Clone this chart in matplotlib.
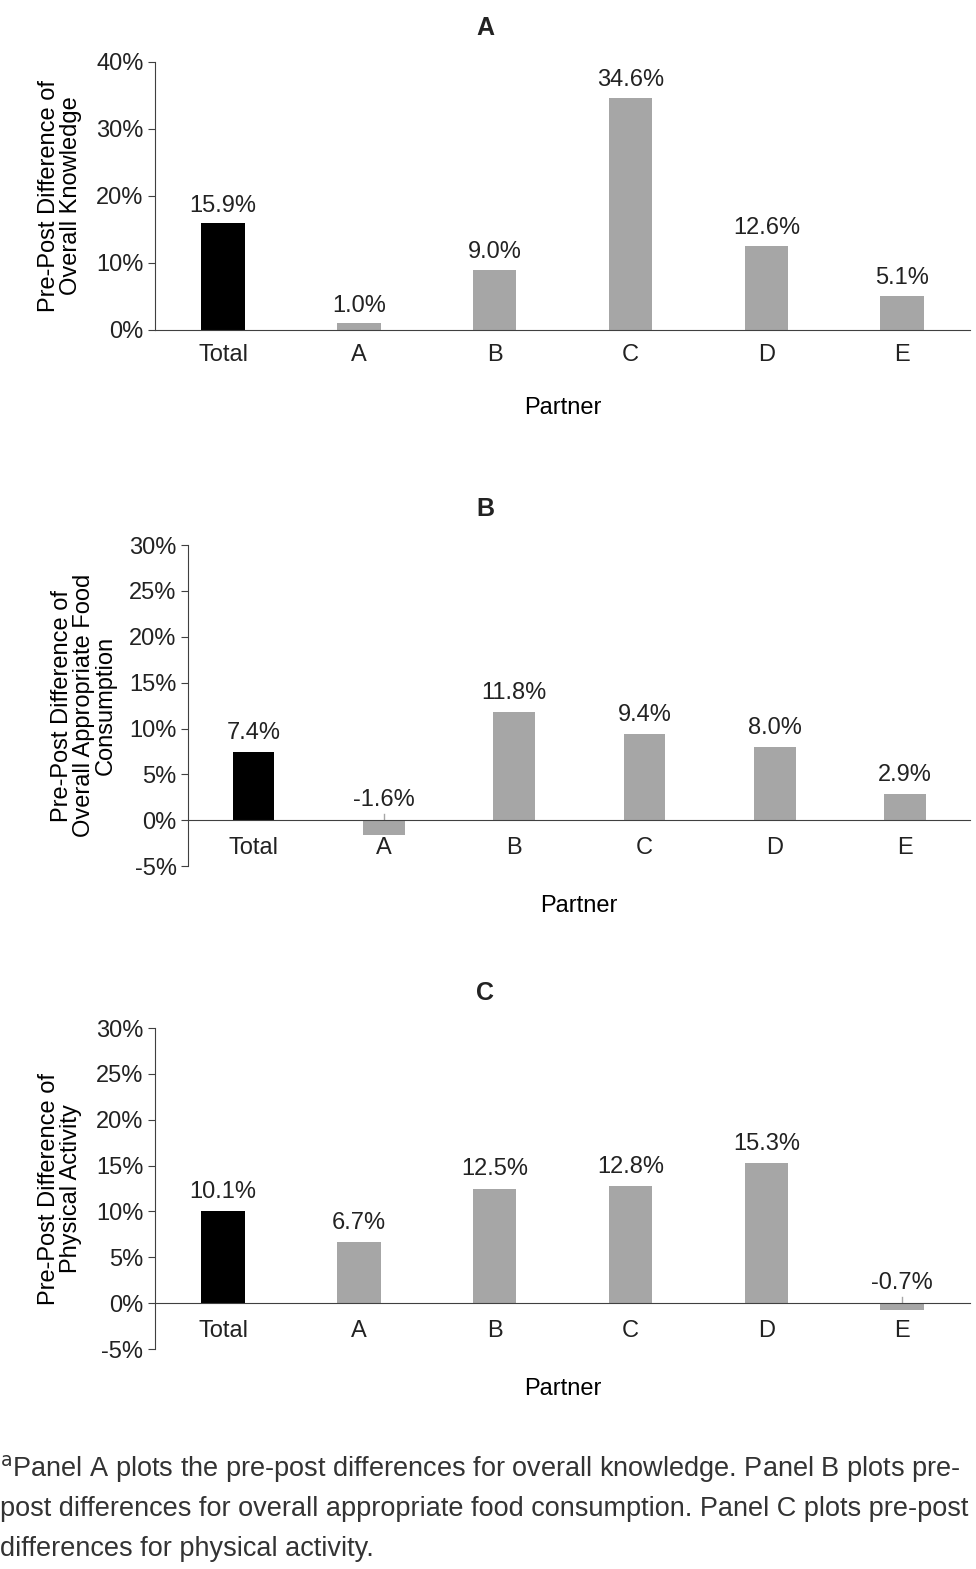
import matplotlib.pyplot as plt

plt.rcParams['font.family'] = ['Liberation Sans', 'DejaVu Sans']
plt.rcParams['text.color'] = '#222222'
plt.rcParams['xtick.color'] = '#222222'
plt.rcParams['ytick.color'] = '#222222'

partners = ['Total', 'A', 'B', 'C', 'D', 'E']
knowledge = [15.9, 1.0, 9.0, 34.6, 12.6, 5.1]
food = [7.4, -1.6, 11.8, 9.4, 8.0, 2.9]
activity = [10.1, 6.7, 12.5, 12.8, 15.3, -0.7]

colors = ['#000000'] + ['#a6a6a6'] * 5

fig = plt.figure(figsize=(9.76, 15.69), dpi=100)

panels = [
    ('A', knowledge, [0.159, 0.7897, 0.835, 0.1708], (0, 40), range(0, 41, 10),
     'Pre-Post Difference of\nOverall Knowledge', 0.99, -0.25, 34),
    ('B', food, [0.193, 0.448, 0.801, 0.2046], (-5, 30), range(-5, 31, 5),
     'Pre-Post Difference of\nOverall Appropriate Food\nConsumption', 0.683, -0.09, 30),
    ('C', activity, [0.159, 0.1402, 0.835, 0.2046], (-5, 30), range(-5, 31, 5),
     'Pre-Post Difference of\nPhysical Activity', 0.375, -0.09, 34),
]

for title, vals, rect, ylim, ticks, ylabel, ty, xly, lpad in panels:
    ax = fig.add_axes(rect)
    ax.spines['bottom'].set_position(('data', 0))
    x = range(len(partners))
    ax.bar(x, vals, width=0.32, color=colors)
    ax.set_xlim(-0.5, 5.5)
    ax.set_ylim(*ylim)
    ax.set_yticks(list(ticks))
    ax.set_yticklabels([f'{t}%' for t in ticks], fontsize=17)
    ax.set_xticks(list(x))
    ax.set_xticklabels(partners, fontsize=17)
    ax.spines['top'].set_visible(False)
    ax.spines['right'].set_visible(False)
    ax.spines['bottom'].set_color('#404040')
    ax.spines['left'].set_color('#404040')
    ax.tick_params(axis='x', length=0, pad=10 if ylim[0] == 0 else 12)
    ax.tick_params(axis='y', direction='out', length=5, color='#404040')
    span = ylim[1] - ylim[0]
    for i, v in enumerate(vals):
        if v >= 0:
            ax.text(i, v + span * 0.025, f'{v:.1f}%', ha='center', va='bottom', fontsize=17)
        else:
            ax.plot([i, i], [v * 0.3, span * 0.02], color='#a6a6a6', lw=1)
            ax.text(i, span * 0.03, f'{v:.1f}%', ha='center', va='bottom', fontsize=17)
    fig.text(0.497, ty, title, fontsize=18, fontweight='bold', ha='center', va='top')
    ax.set_ylabel(ylabel, fontsize=17, linespacing=1.0, labelpad=lpad * 0.3)
    ax.set_xlabel('Partner', fontsize=17)
    ax.xaxis.set_label_coords(0.5, xly)

cap = [r'$^{\rm a}$Panel A plots the pre-post differences for overall knowledge. Panel B plots pre-',
       'post differences for overall appropriate food consumption. Panel C plots pre-post',
       'differences for physical activity.']
for k, line in enumerate(cap):
    fig.text(0.0, 0.064 - k * 0.0255, line, fontsize=19.5, va='center', color='#333333')

fig.savefig('out.png', dpi=100)
